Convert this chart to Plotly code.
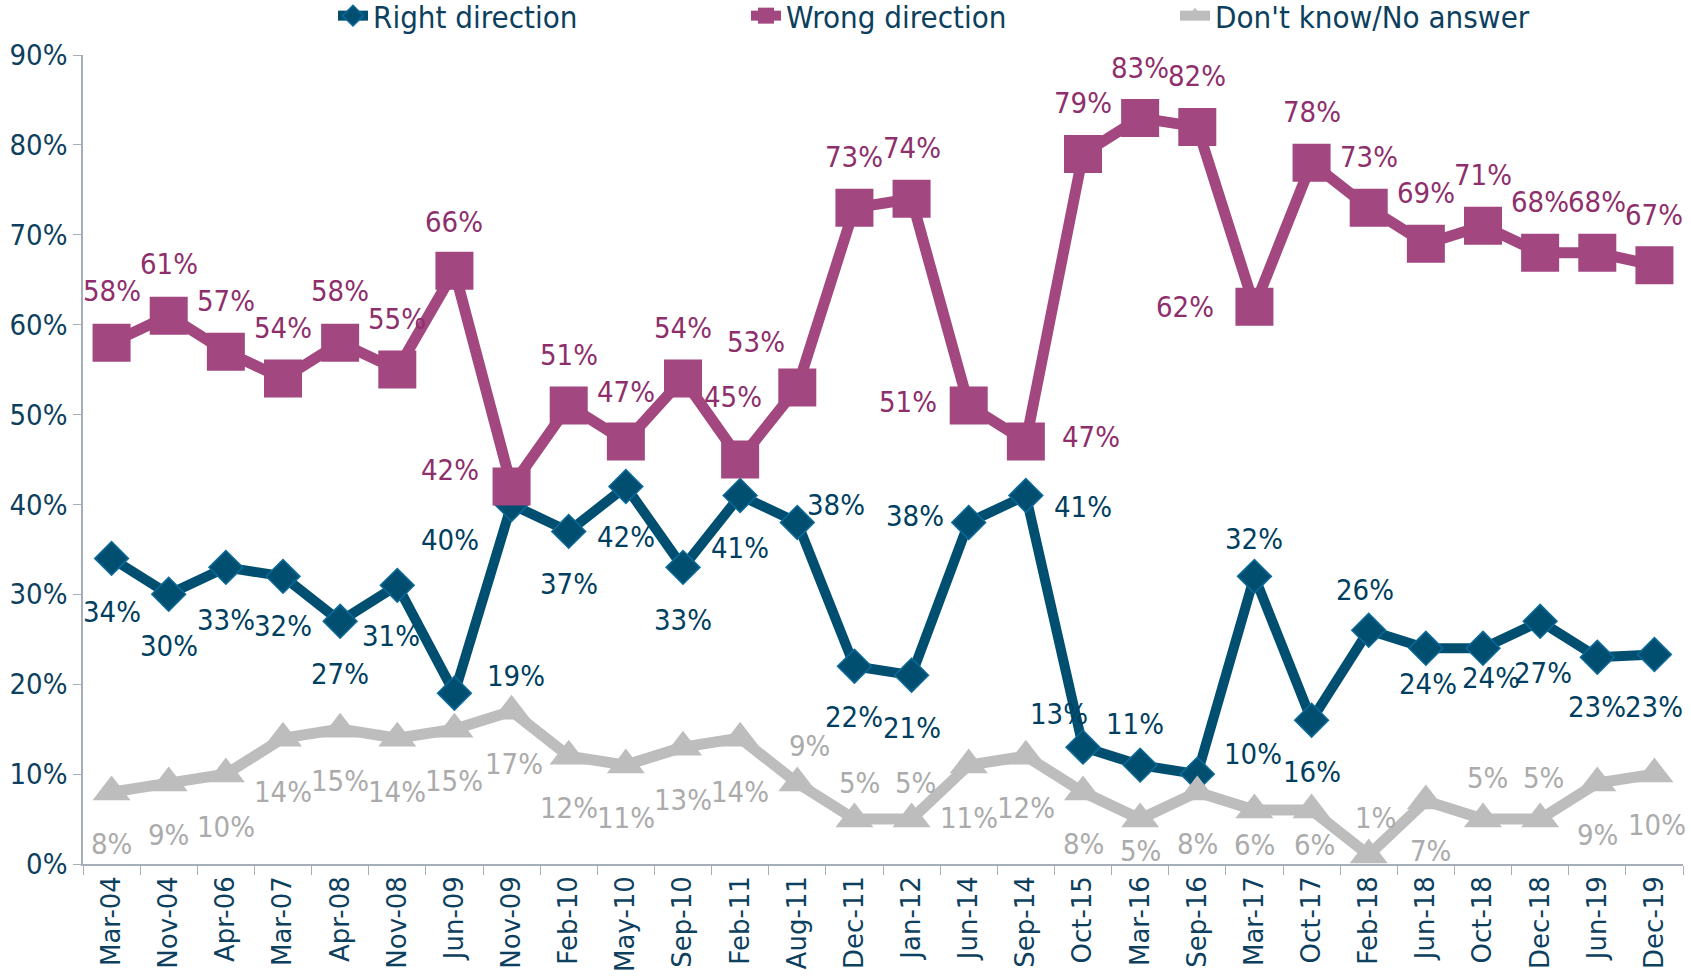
import plotly.graph_objects as go

categories = ["Mar-04", "Nov-04", "Apr-06", "Mar-07", "Apr-08", "Nov-08", "Jun-09", "Nov-09",
              "Feb-10", "May-10", "Sep-10", "Feb-11", "Aug-11", "Dec-11", "Jan-12", "Jun-14",
              "Sep-14", "Oct-15", "Mar-16", "Sep-16", "Mar-17", "Oct-17", "Feb-18", "Jun-18",
              "Oct-18", "Dec-18", "Jun-19", "Dec-19"]
right_direction = [34, 30, 33, 32, 27, 31, 19, 40, 37, 42, 33, 41, 38, 22, 21, 38,
                   41, 13, 11, 10, 32, 16, 26, 24, 24, 27, 23, 23.3]
wrong_direction = [58, 61, 57, 54, 58, 55, 66, 42, 51, 47, 54, 45, 53, 73, 74, 51,
                   47, 79, 83, 82, 62, 78, 73, 69, 71, 68, 68, 66.6]
dont_know = [8, 9, 10, 14, 15, 14, 15, 17, 12, 11, 13, 14, 9, 5, 5, 11,
             12, 8, 5, 8, 6, 6, 1, 7, 5, 5, 9, 10]
y_ticks = [0, 10, 20, 30, 40, 50, 60, 70, 80, 90]

# label offsets (pixels, dx right, dy down) - styling only
S = 1.078
off_wrong = [(0, -48), (0, -48), (0, -47), (0, -47), (0, -48), (0, -47), (0, -45), (-57, -15),
             (0, -47), (0, -46), (0, -47), (-7, -58), (-38, -42), (0, -47), (0, -47), (-56, -3),
             (60, -4), (0, -47), (0, -46), (0, -47), (-64, 0), (0, -47), (0, -47), (0, -47),
             (0, -47), (0, -47), (0, -47), (0, -47)]
off_right = [(0, 50), (0, 48), (0, 49), (0, 46), (0, 49), (-6, 47), (57, -16), (-57, 33),
             (0, 49), (0, 47), (0, 49), (0, 49), (36, -16), (0, 47), (0, 49), (-50, -6),
             (53, 11), (-22, -31), (-5, -38), (52, -19), (0, -35), (0, 48), (-3, -37), (2, 33),
             (7, 28), (3, 48), (0, 46), (0, 49)]
off_dk = [(0, 48), (0, 48), (0, 49), (0, 50), (0, 48), (0, 50), (0, 48), (2, 49),
          (0, 48), (0, 49), (0, 49), (0, 50), (11, -34), (5, -33), (4, -33), (0, 49),
          (0, 48), (0, 48), (0, 30), (0, 48), (0, 32), (3, 32), (6, -34), (4, 46),
          (4, -38), (3, -38), (0, 48), (2, 47)]

BLUE = "#004F71"
BLUE_LBL = "#003F5F"
PURPLE = "#A2477F"
PURPLE_LBL = "#8E2F6C"
GRAY = "#BDBDBD"
GRAY_LBL = "#ABABAB"
AXIS = "#A6AEB8"
FONT = "Liberation Sans Narrow, DejaVu Sans Condensed, Arial Narrow, sans-serif"

fig = go.Figure()
fig.add_trace(go.Scatter(
    x=categories, y=right_direction, mode="lines+markers", name="Right direction",
    line=dict(color=BLUE, width=10),
    marker=dict(symbol="diamond", size=26, color=BLUE, line=dict(color="#0B6A9A", width=1.5)),
    legend="legend"))
fig.add_trace(go.Scatter(
    x=categories, y=wrong_direction, mode="lines+markers", name="Wrong direction",
    line=dict(color=PURPLE, width=11),
    marker=dict(symbol="square", size=38, color=PURPLE),
    legend="legend2"))
fig.add_trace(go.Scatter(
    x=categories, y=dont_know, mode="lines+markers", name="Don't know/No answer",
    line=dict(color=GRAY, width=11),
    marker=dict(symbol="triangle-up", size=33, color=GRAY),
    legend="legend3"))

annotations = []
for vals, offs, col in [(wrong_direction, off_wrong, PURPLE_LBL),
                        (right_direction, off_right, BLUE_LBL),
                        (dont_know, off_dk, GRAY_LBL)]:
    for c, v, (dx, dy) in zip(categories, vals, offs):
        annotations.append(dict(
            x=c, y=v, xref="x", yref="y", text=f"{round(v)}%", showarrow=False,
            xshift=dx * S, yshift=-dy * S,
            font=dict(family=FONT, size=29, color=col)))

L, R = 83, 8
PW = 1691 - L - R
legend_common = dict(orientation="h", xref="paper", yref="container", yanchor="middle",
                     xanchor="left", bgcolor="rgba(0,0,0,0)",
                     font=dict(family=FONT, size=31, color="#0D3F5E"),
                     itemwidth=30)
fig.update_layout(
    width=1691, height=980,
    margin=dict(l=L, r=R, t=55, b=116, autoexpand=False),
    plot_bgcolor="white", paper_bgcolor="white",
    showlegend=True,
    legend=dict(**legend_common, x=(333 - L) / PW, y=1 - 16 / 980),
    legend2=dict(**legend_common, x=(746 - L) / PW, y=1 - 16 / 980),
    legend3=dict(**legend_common, x=(1175 - L) / PW, y=1 - 16 / 980),
    xaxis=dict(
        type="category", range=[-0.5, len(categories) - 0.5],
        showline=True, linecolor=AXIS, linewidth=1.5,
        ticks="outside", tickson="boundaries", ticklen=9, tickcolor=AXIS,
        tickangle=-90, showgrid=False, automargin=False,
        tickfont=dict(family="DejaVu Sans, Verdana, sans-serif", size=26, color="#0D3F5E")),
    yaxis=dict(
        range=[0, 90], tickvals=y_ticks, ticktext=[f"{t}%" for t in y_ticks],
        showline=True, linecolor=AXIS, linewidth=1.5, automargin=False,
        ticks="outside", ticklen=8, tickcolor=AXIS, showgrid=False, zeroline=False,
        tickfont=dict(family=FONT, size=29, color="#0D3F5E")),
    annotations=annotations,
)

fig.write_html("out.html", config={"displayModeBar": False},
               post_script="document.body.style.margin='0';document.body.style.overflow='hidden';")
